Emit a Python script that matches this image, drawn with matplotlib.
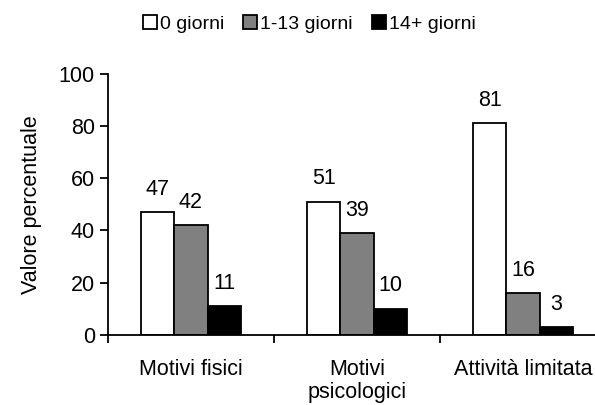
import matplotlib
matplotlib.use("Agg")
import matplotlib.pyplot as plt
import numpy as np

plt.rcParams['font.family'] = ['Liberation Sans', 'DejaVu Sans']

categorie = ["Motivi fisici", "Motivi\npsicologici", "Attività limitata"]
serie = ["0 giorni", "1-13 giorni", "14+ giorni"]
valori = [
    [47, 51, 81],
    [42, 39, 16],
    [11, 10, 3],
]
colori = ["white", "#808080", "black"]
fs = 15.5

fig = plt.figure(figsize=(5.95, 4.05), dpi=100)
# axes runs a bit past the right edge, like the original
ax = fig.add_axes([0.1815, 0.173, 0.837, 0.645])

x = np.arange(len(categorie))
w = 0.2
for i in range(3):
    pos = x + (i - 1) * w
    bars = ax.bar(pos, valori[i], w, color=colori[i], edgecolor="black",
                  linewidth=1.3, label=serie[i])
    for b, v in zip(bars, valori[i]):
        ax.text(b.get_x() + b.get_width() / 2, v + 4.8, str(v),
                ha="center", va="bottom", fontsize=fs)

ax.set_xlim(-0.5, 2.5)
ax.set_ylim(0, 100)
ax.set_yticks(range(0, 101, 20))
ax.set_xticks([-0.5, 0.5, 1.5, 2.5])
ax.set_xticklabels([])
ax.set_xticks(x, minor=True)
ax.set_xticklabels(categorie, minor=True, fontsize=fs, linespacing=1.15)
ax.tick_params(axis="x", which="minor", length=0, pad=17)
ax.tick_params(axis="x", which="major", direction="out", length=6, width=1.3)
ax.tick_params(axis="y", direction="out", length=6, width=1.3, labelsize=fs)
for s in ["top", "right"]:
    ax.spines[s].set_visible(False)
for s in ["left", "bottom"]:
    ax.spines[s].set_linewidth(1.3)
ax.set_ylabel("Valore percentuale", fontsize=fs, labelpad=12)

fig.legend(loc="center", bbox_to_anchor=(0.52, 0.94), ncol=3, frameon=False,
           fontsize=14, handlelength=0.72, handleheight=0.72, handletextpad=0.15,
           columnspacing=1.0)

fig.savefig("out.png", dpi=100)
